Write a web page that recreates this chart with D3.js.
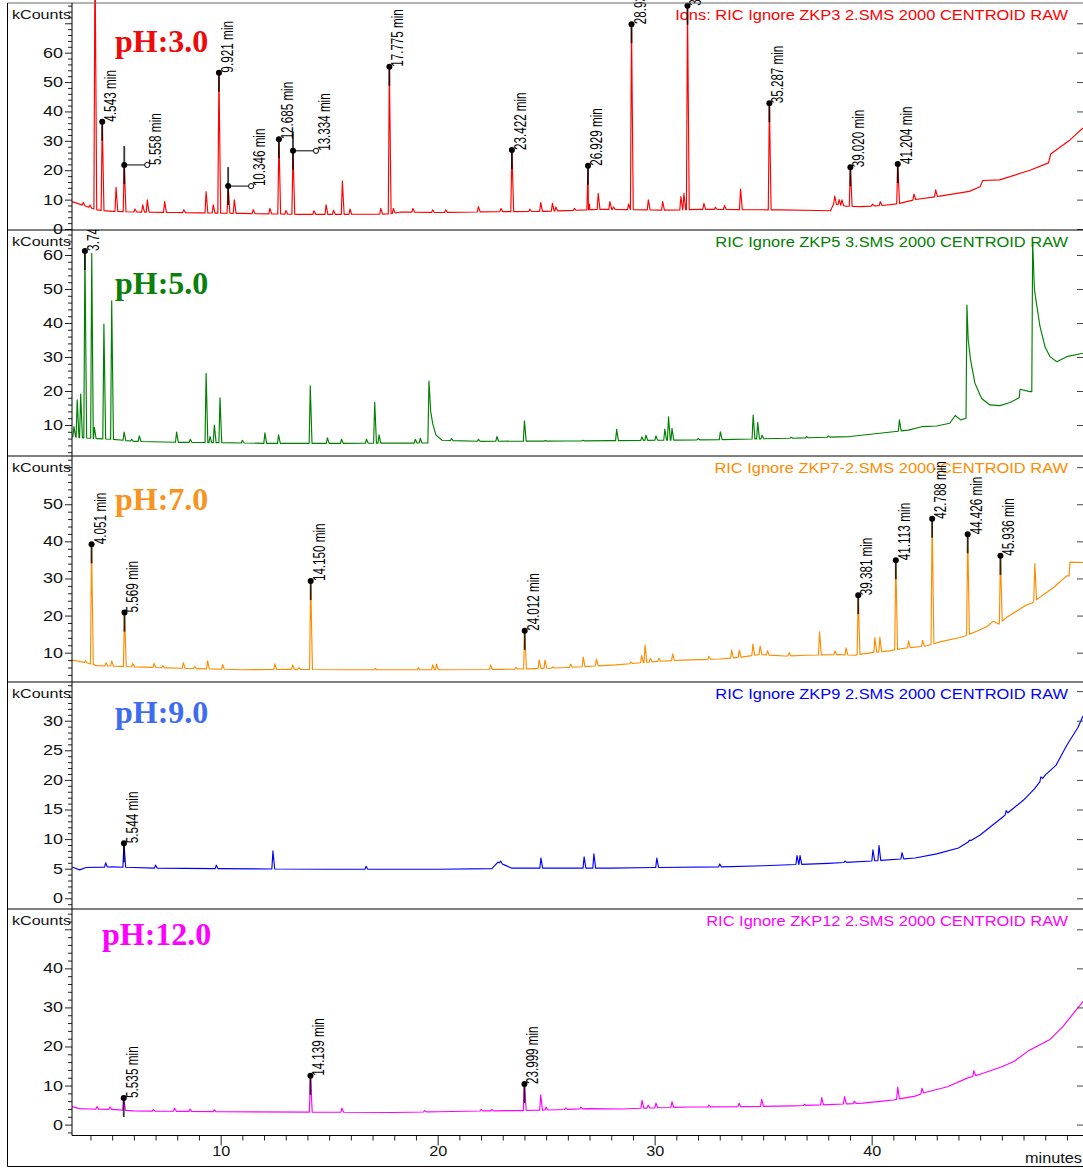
<!DOCTYPE html>
<html>
<head>
<meta charset="utf-8">
<script src="https://cdn.jsdelivr.net/npm/d3@7"></script>
<style>
  body { margin: 0; background: #fff; }
  svg { display: block; }
</style>
</head>
<body>
<svg id="chart" width="1083" height="1169"></svg>
<script>
// ---------------------------------------------------------------
// Retention-time axis (minutes)
// ---------------------------------------------------------------
const xDomain = [3.15, 49.74];
const xTickLabels = [10, 20, 30, 40];

// ---------------------------------------------------------------
// pH 3.0 chromatogram (kCounts)
// baseline: [time, level]; peaks: [time, apex]
// ---------------------------------------------------------------
const ph3Baseline = [[3.15,9.3],[3.6,8.2],[4.0,7.2],[4.3,6.5],[5.0,6.0],[6.0,5.8],[8.0,5.6],[9.0,5.5],[11.0,5.3],[13.5,5.0],[16.0,5.0],[17.8,5.1],[18.3,5.8],[20.0,5.6],[22.9,5.9],[25.0,6.0],[27.5,6.7],[29.0,6.6],[30.5,6.4],[32.1,6.7],[34.0,6.6],[35.8,6.5],[37.5,6.3],[38.1,6.2],[38.25,8.5],[38.8,7.8],[39.5,7.6],[40.5,8.0],[41.3,8.7],[42.0,10.0],[43.15,11.2],[44.5,12.8],[45.0,14.4],[45.12,16.5],[45.9,16.7],[47.3,20.0],[48.15,22.5],[48.25,25.5],[49.14,30.3],[49.74,34.4]];
const ph3Peaks = [[3.67,9.0],[3.98,8.2],[4.21,95],[5.18,14.2],[6.05,6.8],[6.41,8.2],[6.62,9.9],[7.42,9.3],[8.3,6.5],[9.33,12.7],[9.66,8.2],[10.63,9.9],[11.5,6.6],[12.27,7.0],[13.01,6.3],[14.3,6.2],[14.86,8.2],[15.2,6.4],[15.61,16.3],[15.96,6.8],[17.38,7.0],[17.96,7.0],[18.86,7.0],[19.77,6.5],[20.37,6.5],[21.88,7.6],[22.92,7.0],[24.25,6.8],[24.75,9.0],[25.29,8.7],[25.45,7.5],[26.3,7.0],[27.0,8.5],[27.4,12.1],[27.94,9.3],[28.1,7.5],[28.8,8.5],[29.71,9.9],[30.37,9.3],[31.21,11.0],[31.35,12.1],[32.27,8.7],[32.8,7.4],[33.22,8.0],[33.96,13.6],[38.3,11.2],[38.5,10.0],[38.63,9.9],[40.04,8.5],[40.4,9.3],[41.95,11.9],[42.95,13.3]];
const ph3Labeled = [[4.543,36.5],[5.558,21.8],[9.921,53.2],[10.346,14.6],[12.685,30.5],[13.334,26.6],[17.775,55.2],[23.422,26.9],[26.929,21.5],[28.934,69.7],[31.514,76.0],[35.287,42.8],[39.020,21.0],[41.204,22.1]];
const ph3Leaders = [5.558, 10.346, 13.334];
const ph3TickLabels = [0, 10, 20, 30, 40, 50, 60];

// ---------------------------------------------------------------
// pH 5.0 chromatogram
// ---------------------------------------------------------------
const ph5Baseline = [[3.15,6.6],[3.5,6.3],[4.3,6.0],[5.0,5.8],[6.0,5.2],[8.0,4.9],[10.0,4.8],[12.0,4.6],[15.0,4.6],[19.55,4.7],[19.6,22.9],[19.68,14.0],[19.77,10.5],[19.92,7.1],[20.2,5.5],[22.0,5.2],[26.0,5.3],[28.0,5.4],[30.0,5.5],[33.0,5.7],[36.3,6.1],[39.0,6.6],[41.0,8.0],[41.69,8.5],[42.3,9.5],[43.0,9.7],[43.6,10.5],[43.85,12.8],[44.1,11.5],[44.35,12.0],[44.39,45.3],[44.45,35.0],[44.56,29.1],[44.76,22.3],[45.07,17.8],[45.45,15.9],[45.91,15.7],[46.38,16.6],[46.8,18.0],[46.84,20.5],[47.3,19.8],[47.38,19.8],[47.42,63.9],[47.5,50.0],[47.57,46.8],[47.76,38.9],[47.99,33.0],[48.22,30.1],[48.53,28.6],[48.99,30.1],[49.74,31.1]];
const ph5Peaks = [[3.24,9.5],[3.39,17.4],[3.55,19.1],[4.06,60.5],[4.18,9.3],[4.62,39.7],[4.98,46.5],[5.55,7.9],[5.9,5.8],[6.25,6.8],[7.97,7.9],[8.6,5.8],[9.33,25.2],[9.51,6.6],[9.71,10.0],[9.97,18.0],[11.0,5.5],[12.04,7.7],[12.67,7.1],[14.13,21.5],[14.92,6.2],[15.57,5.8],[16.72,5.8],[17.1,16.7],[17.3,7.1],[18.97,5.8],[19.2,6.1],[20.64,6.0],[21.88,5.8],[22.73,6.6],[24.0,11.2],[24.96,5.4],[26.69,5.5],[28.25,8.7],[29.41,6.5],[29.6,7.0],[30.06,6.8],[30.47,8.8],[30.64,12.4],[30.8,9.0],[32.0,6.0],[33.03,8.0],[34.54,12.9],[34.75,10.7],[34.95,7.0],[36.29,6.4],[37.0,6.6],[38.0,6.8],[41.28,11.5]];
const ph5Labeled = [[3.745,61.2]];
const ph5Leaders = [];
const ph5TickLabels = [10, 20, 30, 40, 50, 60];

// ---------------------------------------------------------------
// pH 7.0 chromatogram
// ---------------------------------------------------------------
const ph7Baseline = [[3.15,8.0],[3.8,7.3],[4.3,6.5],[5.0,6.4],[6.0,6.2],[7.5,5.9],[9.0,5.7],[11.0,5.4],[13.0,5.5],[16.0,5.4],[20.0,5.4],[23.0,5.5],[24.5,5.7],[26.0,6.0],[28.2,6.7],[30.0,7.6],[31.3,8.0],[33.0,8.3],[34.0,8.8],[34.86,9.5],[36.0,9.1],[37.0,9.3],[38.5,9.5],[39.2,9.3],[40.0,10.0],[40.8,10.5],[41.5,11.2],[42.5,11.8],[43.15,12.9],[44.07,14.1],[44.3,14.5],[44.84,15.8],[45.3,17.0],[45.61,18.5],[45.85,17.7],[46.2,19.4],[47.11,22.8],[47.4,23.4],[47.83,25.3],[48.37,27.5],[48.99,30.7],[49.1,30.7],[49.14,34.4],[49.74,34.3]];
const ph7Peaks = [[3.5,7.6],[3.78,7.8],[4.72,7.3],[4.98,7.8],[5.95,7.1],[6.93,7.1],[7.33,6.5],[8.28,7.3],[8.8,6.3],[9.4,7.8],[10.09,6.8],[12.5,7.0],[13.32,6.7],[13.6,6.0],[17.11,5.8],[19.11,6.0],[19.77,6.7],[19.95,6.9],[22.44,6.7],[23.6,6.0],[24.68,8.0],[24.95,8.0],[25.3,6.2],[26.13,6.9],[26.71,8.8],[27.32,8.3],[28.9,7.5],[29.4,9.2],[29.56,12.1],[29.8,8.5],[30.2,8.5],[30.83,9.7],[32.5,9.0],[33.55,10.7],[33.9,10.7],[34.53,12.3],[34.86,11.8],[35.2,10.5],[36.2,10.0],[37.6,15.6],[38.31,10.5],[38.82,11.3],[40.15,14.1],[40.38,14.2],[41.7,13.2],[42.35,13.3],[47.52,34.0]];
const ph7Labeled = [[4.051,39.2],[5.569,20.8],[14.150,29.3],[24.012,15.9],[39.381,25.5],[41.113,34.9],[42.788,46.1],[44.426,41.9],[45.936,36.1]];
const ph7Leaders = [];
const ph7TickLabels = [10, 20, 30, 40, 50];

// ---------------------------------------------------------------
// pH 9.0 chromatogram
// ---------------------------------------------------------------
const ph9Baseline = [[3.15,5.3],[3.5,4.8],[3.8,5.2],[5.0,5.3],[7.0,5.1],[10.0,5.0],[15.0,4.9],[20.0,4.9],[22.5,5.0],[22.78,6.1],[23.1,5.6],[23.4,5.1],[25.0,5.1],[28.0,5.1],[30.0,5.2],[33.0,5.3],[35.0,5.5],[38.0,5.9],[40.0,6.3],[42.0,6.8],[43.0,7.5],[44.0,8.5],[45.0,10.7],[46.0,13.6],[47.0,16.6],[47.5,18.5],[48.0,20.8],[48.5,22.5],[49.0,25.9],[49.5,28.8],[49.74,30.8]];
const ph9Peaks = [[4.7,6.0],[7.0,5.6],[9.8,5.6],[12.41,8.0],[16.7,5.4],[22.9,6.3],[24.76,6.8],[26.75,7.0],[27.2,7.5],[30.1,6.8],[33.0,5.8],[36.56,7.2],[36.7,7.2],[38.77,6.3],[40.06,8.2],[40.34,8.9],[41.4,7.7],[44.5,9.8],[46.2,14.8],[47.8,20.5]];
const ph9Labeled = [[5.544,9.3]];
const ph9Leaders = [];
const ph9TickLabels = [0, 5, 10, 15, 20, 25, 30];

// ---------------------------------------------------------------
// pH 12.0 chromatogram
// ---------------------------------------------------------------
const ph12Baseline = [[3.15,4.6],[3.5,4.1],[4.0,4.0],[5.0,3.9],[6.0,3.5],[8.0,3.4],[10.0,3.3],[14.0,3.2],[18.0,3.1],[20.0,3.3],[22.0,3.5],[24.0,3.6],[25.5,3.8],[27.0,4.1],[28.47,4.0],[30.0,4.3],[31.66,4.5],[34.0,4.6],[36.42,4.8],[38.0,5.1],[39.6,5.5],[40.5,6.0],[41.0,6.3],[42.0,7.3],[42.5,8.3],[43.5,9.7],[44.4,11.9],[45.0,12.9],[46.0,14.8],[46.6,16.3],[47.25,19.0],[48.2,21.7],[48.8,25.0],[49.3,28.5],[49.74,31.5]];
const ph12Peaks = [[4.3,4.6],[4.9,4.5],[6.9,3.9],[7.88,4.2],[8.59,4.0],[9.7,3.8],[15.59,4.2],[19.4,3.6],[22.0,3.9],[22.5,3.9],[24.75,7.6],[25.0,4.5],[25.9,4.3],[26.6,4.5],[29.42,6.2],[29.7,5.0],[30.06,5.5],[30.8,5.9],[32.5,5.0],[33.89,5.5],[34.93,6.5],[36.9,5.2],[37.7,6.9],[38.75,7.2],[39.2,6.0],[41.2,9.6],[42.32,9.3],[44.71,13.8]];
const ph12Labeled = [[5.535,6.8],[14.139,12.5],[23.999,10.4]];
const ph12Leaders = [];
const ph12TickLabels = [0, 10, 20, 30, 40];

// Panel headings and data-file captions
const titles = ["pH:3.0", "pH:5.0", "pH:7.0", "pH:9.0", "pH:12.0"];
const captions = [
  "Ions: RIC Ignore ZKP3 2.SMS 2000 CENTROID RAW",
  "RIC Ignore ZKP5 3.SMS 2000 CENTROID RAW",
  "RIC Ignore ZKP7-2.SMS 2000 CENTROID RAW",
  "RIC Ignore ZKP9 2.SMS 2000 CENTROID RAW",
  "RIC Ignore ZKP12 2.SMS 2000 CENTROID RAW"
];

// ---------------------------------------------------------------
// Layout and styling
// ---------------------------------------------------------------
const W = 1083, H = 1169;
const plotLeft = 72, plotRight = 1083, frameLeft = 7.5;
const panelEdges = [3, 230, 456, 682, 909, 1135.5];
const sansFont = "'Liberation Sans', Arial, Helvetica, sans-serif";
const serifFont = "'Liberation Serif', 'Times New Roman', serif";

const panels = [
  { baseline: ph3Baseline, peaks: ph3Peaks, labeled: ph3Labeled, leaders: ph3Leaders, tickLabels: ph3TickLabels,
    yDomain: [-0.34, 76.9], major: 10, minor: 2, color: "#ff0000", titleColor: "#ee0a0a", titleAt: [115, 52] },
  { baseline: ph5Baseline, peaks: ph5Peaks, labeled: ph5Labeled, leaders: ph5Leaders, tickLabels: ph5TickLabels,
    yDomain: [0.88, 67.35], major: 10, minor: 2, color: "#008000", titleColor: "#0a800a", titleAt: [115, 294] },
  { baseline: ph7Baseline, peaks: ph7Peaks, labeled: ph7Labeled, leaders: ph7Leaders, tickLabels: ph7TickLabels,
    yDomain: [2.1, 63.0], major: 10, minor: 2, color: "#ff8c00", titleColor: "#f7931e", titleAt: [115, 510] },
  { baseline: ph9Baseline, peaks: ph9Peaks, labeled: ph9Labeled, leaders: ph9Leaders, tickLabels: ph9TickLabels,
    yDomain: [-1.81, 36.54], major: 5, minor: 1, color: "#0000ff", titleColor: "#3d6cf0", titleAt: [115, 723] },
  { baseline: ph12Baseline, peaks: ph12Peaks, labeled: ph12Labeled, leaders: ph12Leaders, tickLabels: ph12TickLabels,
    yDomain: [-2.79, 55.2], major: 10, minor: 2, color: "#ff00ff", titleColor: "#ff00ff", titleAt: [102, 945] }
];

const svg = d3.select("#chart");
const x = d3.scaleLinear().domain(xDomain).range([plotLeft, plotRight]);

// Builds the trace: read baseline plus narrow spikes for each peak apex
function buildTrace(baseline, peaks) {
  const wl = 0.05, wr = 0.08;
  const bx = baseline.map(d => d[0]);
  const baseAt = t => {
    const i = Math.min(Math.max(d3.bisectLeft(bx, t), 1), baseline.length - 1);
    const a = baseline[i - 1], b = baseline[i];
    const f = (t - a[0]) / (b[0] - a[0]);
    return a[1] + (b[1] - a[1]) * f;
  };
  const pts = baseline.filter(b => !peaks.some(p => b[0] > p[0] - wl && b[0] < p[0] + wr));
  peaks.forEach(([t, h]) => {
    pts.push([t - wl, baseAt(t - wl)], [t, h], [t + wr, baseAt(t + wr)]);
  });
  pts.sort((a, b) => a[0] - b[0]);
  return pts;
}

// Stretch helper for text widths
function fitText(sel, factor) {
  sel.each(function () {
    const n = this.getComputedTextLength();
    d3.select(this).attr("textLength", n * factor).attr("lengthAdjust", "spacingAndGlyphs");
  });
}

panels.forEach((p, i) => {
  const top = panelEdges[i], bottom = panelEdges[i + 1];
  const y = d3.scaleLinear().domain(p.yDomain).range([bottom, top]);
  const clipTop = i === 0 ? 0 : top;

  svg.append("clipPath").attr("id", "clip" + i)
    .append("rect")
    .attr("x", plotLeft).attr("y", clipTop)
    .attr("width", plotRight - plotLeft).attr("height", bottom - clipTop);

  // caption (top right)
  const cap = svg.append("text")
    .attr("x", 1068).attr("y", top + 17)
    .attr("text-anchor", "end")
    .attr("font-family", sansFont).attr("font-size", 15)
    .attr("fill", p.color)
    .text(captions[i]);
  fitText(cap, 1.095);

  // pH heading
  svg.append("text")
    .attr("x", p.titleAt[0]).attr("y", p.titleAt[1])
    .attr("font-family", serifFont).attr("font-weight", "bold")
    .attr("font-size", 32).attr("fill", p.titleColor)
    .text(titles[i]);

  const g = svg.append("g").attr("clip-path", `url(#clip${i})`);

  const allPeaks = p.peaks.concat(p.labeled).sort((a, b) => a[0] - b[0]);
  const trace = buildTrace(p.baseline, allPeaks);
  const line = d3.line().x(d => x(d[0])).y(d => y(d[1]));
  g.append("path")
    .attr("d", line(trace))
    .attr("fill", "none")
    .attr("stroke", p.color)
    .attr("stroke-width", 1.15)
    .attr("stroke-linejoin", "round");

  // peak annotations
  p.labeled.forEach(([t, h]) => {
    const px = x(t), py = y(h);
    const leader = p.leaders.includes(t);
    g.append("line")
      .attr("x1", px).attr("x2", px)
      .attr("y1", leader ? py - 19 : py).attr("y2", py + 19)
      .attr("stroke", "#000").attr("stroke-opacity", 0.78).attr("stroke-width", 1.8);
    let tx = px;
    if (leader) {
      tx = px + 23;
      g.append("line").attr("x1", px).attr("x2", tx - 2.5).attr("y1", py).attr("y2", py)
        .attr("stroke", "#000").attr("stroke-width", 1);
      g.append("circle").attr("cx", tx).attr("cy", py).attr("r", 2.6)
        .attr("fill", "#fff").attr("stroke", "#000").attr("stroke-width", 1);
    }
    g.append("circle").attr("cx", px).attr("cy", py).attr("r", 3).attr("fill", "#000");
    const label = t.toFixed(3) + " min";
    g.append("text")
      .attr("transform", `translate(${tx + 14},${py}) rotate(-90)`)
      .attr("font-family", sansFont).attr("font-size", 17)
      .attr("fill", "#000")
      .attr("textLength", label.length * 5.75)
      .attr("lengthAdjust", "spacingAndGlyphs")
      .text(label);
  });

  // y axis ticks
  const lo = Math.ceil(p.yDomain[0] / p.minor) * p.minor;
  const all = d3.range(lo, p.yDomain[1], p.minor);
  const majors = all.filter(v => Math.abs(v / p.major - Math.round(v / p.major)) < 1e-9);
  const minors = all.filter(v => !majors.includes(v));

  const minorAxis = svg.append("g").attr("transform", `translate(${plotLeft},0)`)
    .call(d3.axisLeft(y).tickValues(minors).tickSize(4).tickFormat(""));
  const majorAxis = svg.append("g").attr("transform", `translate(${plotLeft},0)`)
    .call(d3.axisLeft(y).tickValues(majors).tickSize(7).tickPadding(2)
      .tickFormat(v => p.tickLabels.includes(v) ? String(v) : ""));
  [minorAxis, majorAxis].forEach(a => {
    a.select(".domain").remove();
    a.selectAll("line").attr("stroke", "#222");
  });
  majorAxis.selectAll("text")
    .attr("font-family", sansFont).attr("font-size", 14).attr("fill", "#111")
    .each(function (v) {
      const s = p.tickLabels.includes(v) ? String(v) : "";
      if (s) d3.select(this).attr("textLength", s.length * 10).attr("lengthAdjust", "spacingAndGlyphs");
    });

  // mirrored ticks on the right edge
  const rightAxis = svg.append("g").attr("transform", `translate(${plotRight},0)`)
    .call(d3.axisLeft(y).tickValues(majors).tickSize(6).tickFormat(""));
  rightAxis.select(".domain").remove();
  rightAxis.selectAll("line").attr("stroke", "#444");

  // units label
  svg.append("text")
    .attr("x", 12).attr("y", top + 16)
    .attr("font-family", sansFont).attr("font-size", 13.5).attr("fill", "#111")
    .attr("textLength", 59).attr("lengthAdjust", "spacingAndGlyphs")
    .text("kCounts");
});

// panel separators
svg.selectAll("line.sep")
  .data(panelEdges.slice(1, 5))
  .join("line")
  .attr("class", "sep")
  .attr("x1", frameLeft).attr("x2", W)
  .attr("y1", d => d).attr("y2", d => d)
  .attr("stroke", "#000").attr("stroke-width", 1);

// outer frame
svg.append("line").attr("x1", frameLeft).attr("x2", W).attr("y1", 3).attr("y2", 3)
  .attr("stroke", "#666").attr("stroke-width", 1);
svg.append("line").attr("x1", frameLeft).attr("x2", frameLeft).attr("y1", 3).attr("y2", 1166.5)
  .attr("stroke", "#000").attr("stroke-width", 1);
svg.append("line").attr("x1", frameLeft).attr("x2", W).attr("y1", 1166.5).attr("y2", 1166.5)
  .attr("stroke", "#000").attr("stroke-width", 1);

// y axis line spanning all panels
svg.append("line").attr("x1", plotLeft).attr("x2", plotLeft).attr("y1", 3).attr("y2", panelEdges[5])
  .attr("stroke", "#000").attr("stroke-width", 1);

// x axis
const xMinor = d3.range(4, 50).filter(v => v % 10 !== 0);
const xMinorAxis = svg.append("g").attr("transform", `translate(0,${panelEdges[5]})`)
  .call(d3.axisBottom(x).tickValues(xMinor).tickSize(5).tickFormat(""));
const xMajorAxis = svg.append("g").attr("transform", `translate(0,${panelEdges[5]})`)
  .call(d3.axisBottom(x).tickValues(xTickLabels).tickSize(10).tickPadding(0));
[xMinorAxis, xMajorAxis].forEach(a => {
  a.select(".domain").remove();
  a.selectAll("line").attr("stroke", "#222");
});
xMajorAxis.selectAll("text")
  .attr("font-family", sansFont).attr("font-size", 15).attr("fill", "#111")
  .attr("textLength", 18).attr("lengthAdjust", "spacingAndGlyphs");
svg.append("line").attr("x1", plotLeft).attr("x2", W)
  .attr("y1", panelEdges[5]).attr("y2", panelEdges[5])
  .attr("stroke", "#000").attr("stroke-width", 1);

svg.append("text")
  .attr("x", 1082).attr("y", 1163)
  .attr("text-anchor", "end")
  .attr("font-family", sansFont).attr("font-size", 14).attr("fill", "#111")
  .attr("textLength", 57).attr("lengthAdjust", "spacingAndGlyphs")
  .text("minutes");
</script>
</body>
</html>
